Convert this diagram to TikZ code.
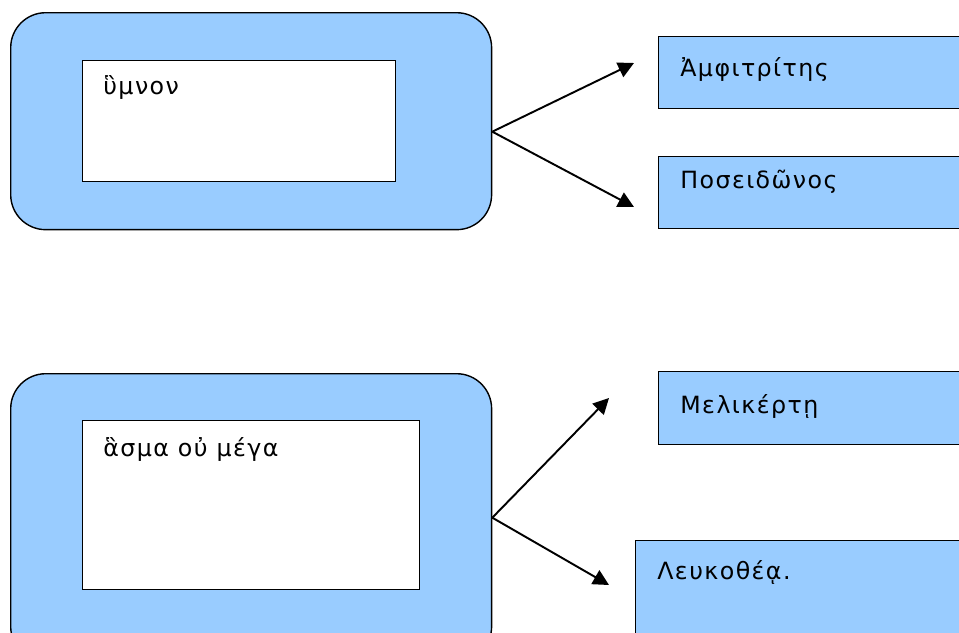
\documentclass[tikz,border=0pt]{standalone}
\usepackage{fontspec}
\setmainfont{DejaVu Sans}
\newfontfamily\greekwide[LetterSpace=6]{DejaVu Sans}
\usepackage{xcolor}
\usepackage{tikz}
\usetikzlibrary{arrows.meta,positioning}

\definecolor{boxblue}{HTML}{99CCFF}

\begin{document}
\begin{tikzpicture}[
  x=0.02cm, y=-0.02cm,
  outer/.style={draw=black, line width=0.8pt, fill=boxblue, rounded corners=0.7cm,
    anchor=north west, minimum width=9.62cm, inner sep=0pt},
  inner/.style={draw=black, line width=0.8pt, fill=white, anchor=north west, inner sep=0pt},
  term/.style={draw=black, line width=0.8pt, fill=boxblue, anchor=north west,
    minimum width=6.8cm, inner sep=0pt},
  word/.style={anchor=base west, inner sep=0pt, font=\greekwide\fontsize{13.5}{16}\selectfont},
  line/.style={-{Triangle[length=9pt, width=9pt]}, line width=1.1pt}
]
\useasboundingbox (0,0) rectangle (959,632);
\clip (0,0) rectangle (959,632);

% upper group
\node[outer, minimum height=4.34cm] (outer1) at (10,12) {};
\node[inner, minimum width=6.26cm, minimum height=2.42cm] (inner1) at (82,60) {};
\node[word] (w1) at (103,94) {ὓμνον};

\node[term, minimum height=1.44cm] (amph) at (658,36) {};
\node[word] (amphtxt) at (680,76) {Ἀμφιτρίτης};
\node[term, minimum height=1.44cm] (pos) at (658,156) {};
\node[word] (postxt) at (680,188) {Ποσειδῶνος};

\coordinate (tipA) at (634,63);
\coordinate (tipB) at (634,207);
\draw[line] ([yshift=-0.21cm]outer1.east) -- (tipA);
\draw[line] ([yshift=-0.21cm]outer1.east) -- (tipB);

% lower group
\node[outer, minimum height=5.76cm] (outer2) at (10,373) {};
\node[inner, minimum width=6.74cm, minimum height=3.38cm] (inner2) at (82,420) {};
\node[word] (w2) at (103,456) {ἃσμα οὐ μέγα};

\node[term, minimum height=1.46cm] (mel) at (658,371) {};
\node[word] (meltxt) at (680,413) {Μελικέρτῃ};
\node[term, minimum height=2.4cm] (leu) at (635,540) {};
\node[word] (leutxt) at (657,579) {Λευκοθέᾳ.};

\coordinate (tipC) at (609,398);
\coordinate (tipD) at (609,585);
\draw[line] (outer2.east) -- (tipC);
\draw[line] (outer2.east) -- (tipD);

\end{tikzpicture}
\end{document}
